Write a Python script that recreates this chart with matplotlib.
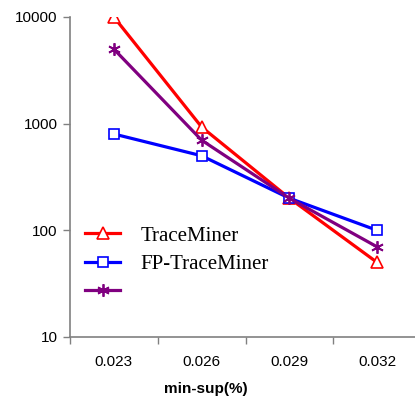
import matplotlib
matplotlib.use("Agg")
import matplotlib.pyplot as plt

# data
categories = ["0.023", "0.026", "0.029", "0.032"]
trace_miner = [10000, 930, 200, 50]
fp_trace_miner = [800, 500, 200, 100]
third_series = [5000, 700, 200, 70]
y_ticks = [10, 100, 1000, 10000]

W, H, DPI = 415, 401, 100
fig = plt.figure(figsize=(W / DPI, H / DPI), dpi=DPI)
# plot area in pixels: left 70, right 421 (cropped by image edge), top 17, bottom 337
ax = fig.add_axes([70 / W, 1 - 337 / H, (421 - 70) / W, (337 - 17) / H])

x = list(range(len(categories)))
ax.plot(x, trace_miner, color="#ff0000", lw=2.3, marker="^", ms=8,
        mfc="white", mec="#ff0000", mew=1.2, label="TraceMiner")
ax.plot(x, fp_trace_miner, color="#0000ff", lw=2.3, marker="s", ms=6.5,
        mfc="white", mec="#0000ff", mew=1.2, label="FP-TraceMiner")
ax.plot(x, third_series, color="#800080", lw=2.3, marker=(6, 2, 0), ms=9,
        mec="#800080", mew=1.3, label=" ")

ax.set_yscale("log")
ax.set_ylim(10, 10000)
ax.set_yticks(y_ticks)
ax.set_yticklabels([str(v) for v in y_ticks])
ax.yaxis.set_minor_locator(matplotlib.ticker.NullLocator())
ax.set_xlim(-0.5, 3.5)
ax.set_xticks(x)
ax.set_xticklabels(categories)
ax.set_xticks([i - 0.5 for i in range(5)], minor=True)
ax.tick_params(axis="x", which="major", length=0, pad=13)
ax.tick_params(axis="x", which="minor", length=5, color="#808080", width=1)
ax.tick_params(axis="y", length=5, color="#808080", width=1, pad=4)

for lab in ax.get_xticklabels() + ax.get_yticklabels():
    lab.set_fontfamily("Liberation Sans")
    lab.set_fontsize(11)

for side in ("top", "right"):
    ax.spines[side].set_visible(False)
for side in ("left", "bottom"):
    ax.spines[side].set_color("#808080")
    ax.spines[side].set_linewidth(1.2)

ax.set_xlabel("min-sup(%)", fontfamily="Liberation Sans", fontsize=11,
              fontweight="bold", va="center")
ax.xaxis.set_label_coords((206 - 70) / (421 - 70), -(389 - 337) / 320)

leg = ax.legend(loc="upper left", bbox_to_anchor=(85 / W, 1 - 226 / H),
                bbox_transform=fig.transFigure, frameon=False,
                prop={"family": "Liberation Serif", "size": 15},
                handlelength=1.7, handletextpad=0.95, labelspacing=0.42,
                borderpad=0, borderaxespad=0)

fig.savefig("out.png", dpi=DPI)
